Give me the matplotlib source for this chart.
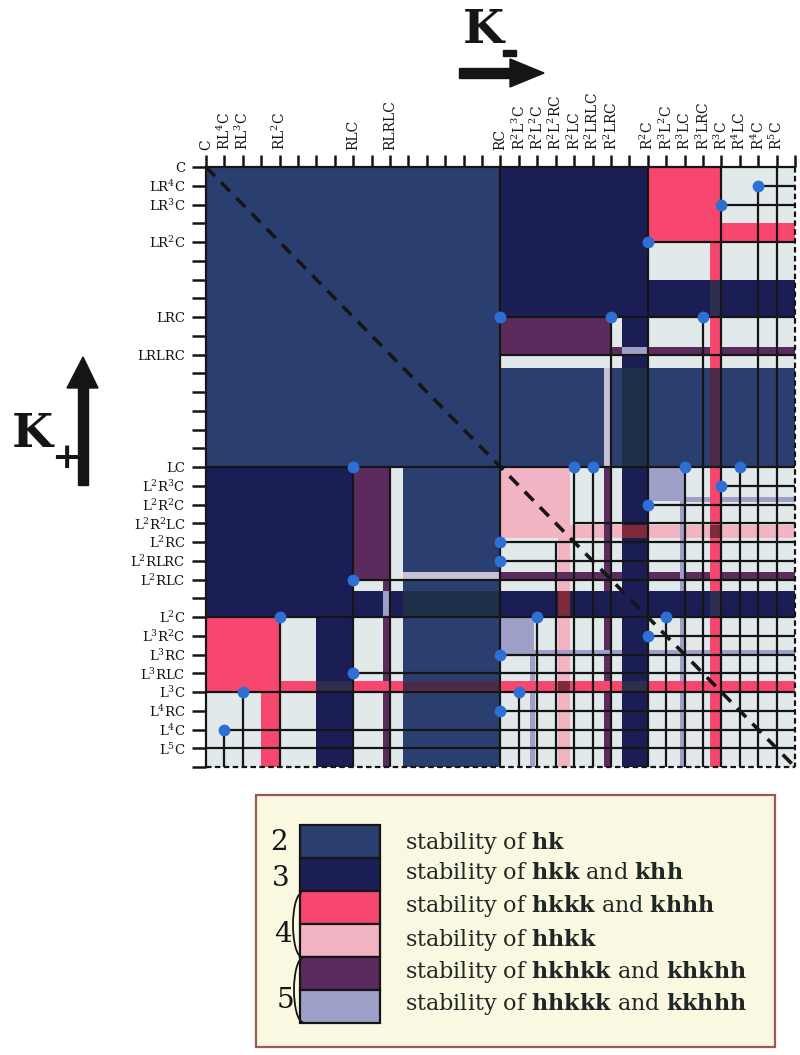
import matplotlib
matplotlib.use('Agg')
import matplotlib.pyplot as plt
from matplotlib.patches import Rectangle, Polygon, Arc

plt.rcParams['font.family'] = ['DejaVu Serif']
plt.rcParams['mathtext.fontset'] = 'custom'
plt.rcParams['mathtext.rm'] = 'DejaVu Serif'
plt.rcParams['mathtext.it'] = 'DejaVu Serif:italic'
plt.rcParams['mathtext.bf'] = 'DejaVu Serif:bold'

# ---------------- data ----------------
x_tick_pos = [0, 1, 2, 4, 8, 10, 16, 17, 18, 19, 20, 21, 22, 24, 25, 26, 27, 28, 29, 30, 31]
x_tick_labels = ['C', 'RL$^4$C', 'RL$^3$C', 'RL$^2$C', 'RLC', 'RLRLC', 'RC',
                 'R$^2$L$^3$C', 'R$^2$L$^2$C', 'R$^2$L$^2$RC', 'R$^2$LC', 'R$^2$LRLC',
                 'R$^2$LRC', 'R$^2$C', 'R$^3$L$^2$C', 'R$^3$LC', 'R$^3$LRC', 'R$^3$C',
                 'R$^4$LC', 'R$^4$C', 'R$^5$C']
y_tick_pos = x_tick_pos
y_tick_labels = ['C', 'LR$^4$C', 'LR$^3$C', 'LR$^2$C', 'LRC', 'LRLRC', 'LC',
                 'L$^2$R$^3$C', 'L$^2$R$^2$C', 'L$^2$R$^2$LC', 'L$^2$RC', 'L$^2$RLRC',
                 'L$^2$RLC', 'L$^2$C', 'L$^3$R$^2$C', 'L$^3$RC', 'L$^3$RLC', 'L$^3$C',
                 'L$^4$RC', 'L$^4$C', 'L$^5$C']
n_grid = 32

# stability regions (x0, x1, y0, y1, kind); each is drawn with its mirror image (x<->y)
corner_regions = [(0, 16, 0, 16, 'hk')]
upper_regions = [
    (16, 32, 0, 16, 'hk'), (16, 24, 0, 8, 'hkk'), (24, 28, 0, 4, 'hkkk'),
    (28, 32, 0, 3, 'light'), (28, 32, 3, 4, 'hkkk'), (24, 32, 4, 6, 'light'),
    (24, 32, 6, 8, 'hkk'), (16, 22, 8, 10, 'hkhkk'), (16, 22, 10, 10.7, 'light'),
    (22, 22.6, 8, 10.7, 'light'), (22.6, 24, 8, 10.7, 'hkk'), (24, 32, 8, 10.7, 'light'),
    (22, 32, 9.6, 10, 'hkhkk'), (22.6, 24, 9.6, 10, 'hhkkk'), (22.6, 24, 10.7, 16, 'dark'),
    (27.4, 28, 4, 10.7, 'hkkk'), (27.4, 28, 6, 8, 'mix'), (27.4, 28, 10.7, 16, 'dmaroon'),
    (21.6, 22, 10.7, 16, 'lilac'),
    (16, 32, 16, 32, 'light'), (16, 19.8, 16, 19.8, 'hhkk'), (19.1, 19.8, 19.8, 32, 'hhkk'),
    (21.6, 22, 16, 32, 'hkhkk'), (24, 26, 16, 17.8, 'hhkkk'),
    (26, 32, 17.6, 17.85, 'hhkkk'), (25.75, 26, 17.8, 32, 'hhkkk'),
    (22.6, 24, 16, 32, 'hkk'), (27.4, 28, 16, 32, 'hkkk'),
    (19.1, 19.8, 22.6, 24, 'darkred'), (27.4, 28, 22.6, 24, 'mix'),
    (27.4, 28, 19.1, 19.8, 'darkred'), (27.4, 28, 27.4, 28, 'hkkk'),
    (22.6, 24, 22.6, 24, 'hkk'),
]
# boundary lines: (k, start) -> vertical x=k from y=start, horizontal y=k from x=start
line_starts = [(1, 30), (2, 28), (4, 24), (8, 16), (10, 16), (16, 0), (17, 28), (18, 24),
               (19, 20), (20, 16), (21, 16), (22, 8), (24, 0), (25, 24), (26, 16),
               (27, 8), (28, 0), (29, 16), (30, 1), (31, 0)]
# bifurcation points (upper half, mirrored)
dots_x = [16, 22, 27, 24, 28, 30, 20, 21, 26, 29, 28, 24, 25]
dots_y = [8, 8, 8, 4, 2, 1, 16, 16, 16, 16, 17, 18, 24]

legend_kinds = ['hk', 'hkk', 'hkkk', 'hhkk', 'hkhkk', 'hhkkk']
legend_first = ['hk', 'hkk', 'hkkk', 'hhkk', 'hkhkk', 'hhkkk']
legend_second = [None, 'khh', 'khhh', None, 'khkhh', 'kkhhh']

colors = {'hk': '#2a3f6f', 'hkk': '#1b1e55', 'hkkk': '#f8476f', 'hhkk': '#f2b3c3',
          'hkhkk': '#5c2b5d', 'hhkkk': '#9fa0c9', 'light': '#e1e9eb', 'dark': '#1e2f48',
          'mix': '#2f2e4e', 'darkred': '#7d2a3a', 'dmaroon': '#4b2b48', 'lilac': '#c9c0d6'}
ink = '#151515'

# ---------------- figure ----------------
fig = plt.figure(figsize=(8, 10.55), dpi=100)
ax = fig.add_axes([206 / 800, (1055 - 767) / 1055, 589 / 800, 600 / 1055])
ax.set_xlim(0, n_grid)
ax.set_ylim(n_grid, 0)

def rect(x0, x1, y0, y1, kind):
    ax.add_patch(Rectangle((x0, y0), x1 - x0, y1 - y0, facecolor=colors[kind],
                           edgecolor='none', zorder=1))

for (x0, x1, y0, y1, k) in corner_regions:
    rect(x0, x1, y0, y1, k)
for (x0, x1, y0, y1, k) in upper_regions:
    rect(x0, x1, y0, y1, k)
    rect(y0, y1, x0, x1, k)

for (k, s) in line_starts:
    ax.plot([k, k], [s, n_grid], color=ink, lw=1.6, zorder=3, solid_capstyle='butt')
    ax.plot([s, n_grid], [k, k], color=ink, lw=1.6, zorder=3, solid_capstyle='butt')

# dashed right and bottom borders
ax.plot([n_grid, n_grid], [0, n_grid], color=ink, lw=1.6, ls=(0, (2.5, 1.5)), zorder=4, clip_on=False)
ax.plot([0, n_grid], [n_grid, n_grid], color=ink, lw=1.6, ls=(0, (2.5, 1.5)), zorder=4, clip_on=False)
# diagonal
ax.plot([0, n_grid], [0, n_grid], color=ink, lw=2.6, ls=(0, (3.5, 2.5)), zorder=4)
# dots
ax.plot(dots_x + dots_y, dots_y + dots_x, 'o', ms=8.5, color='#2d6fd5', mec='none', zorder=5)

for side in ['right', 'bottom']:
    ax.spines[side].set_visible(False)
for side in ['top', 'left']:
    ax.spines[side].set_linewidth(1.6)
    ax.spines[side].set_color(ink)

ax.xaxis.tick_top()
ax.set_xticks(range(n_grid + 1))
xl = [''] * (n_grid + 1)
for p, l in zip(x_tick_pos, x_tick_labels):
    xl[p] = l
ax.set_xticklabels(xl, rotation=90, fontsize=10)
ax.set_yticks(range(n_grid + 1))
yl = [''] * (n_grid + 1)
for p, l in zip(y_tick_pos, y_tick_labels):
    yl[p] = l
ax.set_yticklabels(yl, fontsize=9.5)
ax.tick_params(axis='x', direction='out', length=9, width=1.8, pad=3, colors=ink)
ax.tick_params(axis='y', direction='out', length=10, width=1.8, pad=5, colors=ink)

# ---------------- overlay: axis names and legend ----------------
ov = fig.add_axes([0, 0, 1, 1], zorder=-1)
ov.set_xlim(0, 800)
ov.set_ylim(1055, 0)
ov.axis('off')

ov.text(483, 30, 'K', fontsize=34, fontweight='bold', ha='center', va='center', color=ink)
ov.add_patch(Rectangle((503, 50), 13, 6, color=ink))
ov.add_patch(Rectangle((459, 68), 52, 10, color=ink))
ov.add_patch(Polygon([(510, 59), (544, 73), (510, 87)], closed=True, color=ink))

ov.text(32, 434, 'K', fontsize=34, fontweight='bold', ha='center', va='center', color=ink)
ov.text(66, 458, '+', fontsize=26, fontweight='bold', ha='center', va='center', color=ink)
ov.add_patch(Rectangle((78, 385), 10, 100, color=ink))
ov.add_patch(Polygon([(67, 388), (83, 357), (98, 388)], closed=True, color=ink))

ov.add_patch(Rectangle((256, 795), 519, 252, facecolor='#fbf8e2', edgecolor='#9c5a4c', lw=1.6))
row_h = 33
top = 825
text_y = [843, 873, 906, 940, 972, 1004]
for i, kind in enumerate(legend_kinds):
    ov.add_patch(Rectangle((300, top + i * row_h), 80, row_h, facecolor=colors[kind],
                           edgecolor=ink, lw=1.6))
    s = 'stability of $\\mathbf{' + legend_first[i] + '}$'
    if legend_second[i]:
        s += ' and $\\mathbf{' + legend_second[i] + '}$'
    ov.text(405, text_y[i], s, fontsize=16, ha='left', va='center', color='#1e2626')
ov.text(279, 843, '2', fontsize=20, ha='center', va='center', color=ink)
ov.text(281, 879, '3', fontsize=20, ha='center', va='center', color=ink)
ov.text(283, 935, '4', fontsize=20, ha='center', va='center', color=ink)
ov.text(285, 1001, '5', fontsize=20, ha='center', va='center', color=ink)
ov.add_patch(Arc((302, 925), 18, 64, theta1=90, theta2=270, lw=1.3, color=ink))
ov.add_patch(Arc((303, 990), 18, 64, theta1=90, theta2=270, lw=1.3, color=ink))

fig.savefig('out.png', dpi=100, facecolor='white')
